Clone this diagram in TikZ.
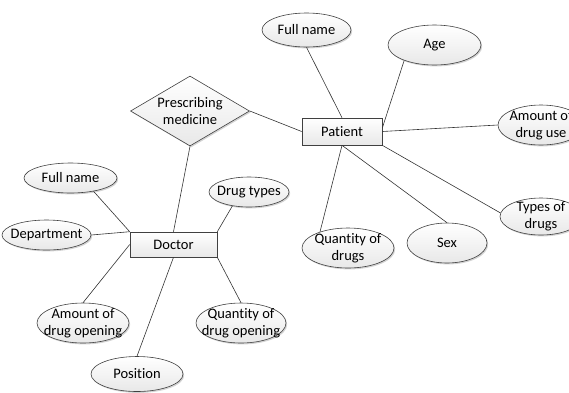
\documentclass[tikz,border=0pt]{standalone}
\usepackage{fontspec}
\setmainfont{Carlito}[Ligatures=NoCommon]
\usetikzlibrary{shapes.geometric,shadows}

\begin{document}
\begin{tikzpicture}[x=1pt, y=-1pt, font=\fontsize{14.5}{16.7}\selectfont,
    box/.style={draw=black!75, line width=0.6pt, top color=white, bottom color=black!9,
      drop shadow={shadow xshift=1.2pt, shadow yshift=-1.4pt, opacity=0.35}},
    attr/.style 2 args={box, ellipse, inner sep=0pt, minimum width=#1pt, minimum height=#2pt},
    entity/.style 2 args={box, rectangle, inner sep=0pt, minimum width=#1pt, minimum height=#2pt},
    rel/.style={box, diamond, aspect=1.7, inner sep=0pt, align=center,
      minimum width=119pt, minimum height=70pt},
    txt/.style={align=center, inner sep=0pt},
    link/.style={draw=black!80, line width=0.6pt}]
  \useasboundingbox (0,0) rectangle (569,392);

  % relationship and entities
  \node[rel] (presc) at (190,111) {Prescribing\\medicine};
  \node[entity={80}{27}] (patient) at (342,131.5) {Patient};
  \node[entity={87}{25}] (doctor) at (173.5,244.5) {Doctor};

  % patient attributes
  \node[attr={89}{34}, label={[txt]center:Full name}] (pname) at (306.5,30) {};
  \node[attr={93}{40}, label={[txt]center:Age}] (age) at (434.5,45) {};
  \node[attr={86}{40}, label={[txt]center:Amount of\\drug use}] (druguse) at (541,125) {};
  \node[attr={92}{40}, label={[txt]center:Quantity of\\drugs}] (qdrugs) at (348,248) {};
  \node[attr={80}{40}, label={[txt]center:Sex}] (sex) at (447,243) {};
  \node[attr={82}{37}, label={[txt]center:Types of\\drugs}] (tdrugs) at (541,216.5) {};

  % doctor attributes
  \node[attr={93}{30}, label={[txt]center:Full name}] (dname) at (70.5,178) {};
  \node[attr={89}{30}, label={[txt]center:Department}] (dept) at (46.5,235) {};
  \node[attr={80}{30}, label={[txt]center:Drug types}] (dtypes) at (249,192) {};
  \node[attr={92}{40}, label={[txt]center:Amount of\\drug opening}] (aopen) at (83,323) {};
  \node[attr={90}{40}, label={[txt]center:Quantity of\\drug opening}] (qopen) at (241,323) {};
  \node[attr={92}{35}, label={[txt]center:Position}] (pos) at (137,374) {};

  \foreach \a/\b in {presc.east/patient.west, patient.north/pname.south, patient.5/age.207,
      patient.east/druguse.west, patient.south/qdrugs.150, patient.south/sex.north,
      patient.south east/tdrugs.175, presc.south/doctor.north, dname.-30/doctor.north west,
      dept.east/doctor.north west, dtypes.220/doctor.north east, doctor.west/aopen.north,
      doctor.south/pos.north, doctor.south east/qopen.north}
    \draw[link] (\a) -- (\b);
\end{tikzpicture}
\end{document}
